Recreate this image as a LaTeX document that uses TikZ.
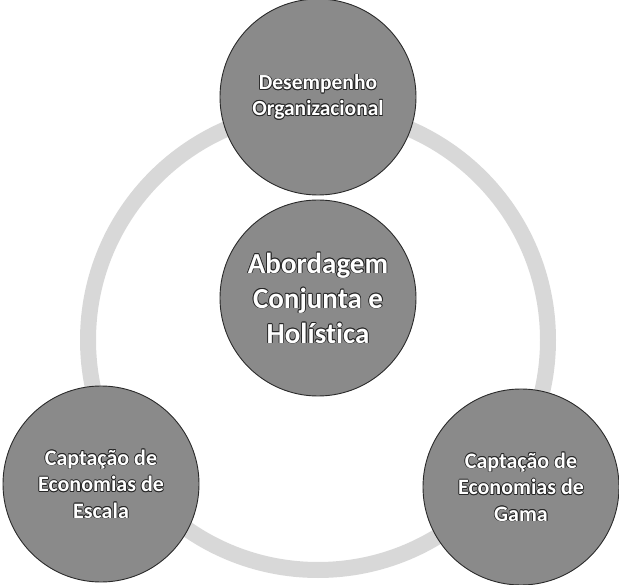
\documentclass[tikz,border=0pt]{standalone}
\usepackage{fontspec}
\setmainfont{Carlito}[BoldFont={Carlito Bold}, Ligatures=NoCommon]
\definecolor{discfill}{HTML}{8A8A8A}
\definecolor{discedge}{HTML}{2A2A2A}
\definecolor{ringgray}{HTML}{D8D8D8}
\definecolor{letteredge}{HTML}{262626}
% white letters with a thin dark contour made of shifted dark copies
\newlength\cshift \setlength\cshift{0.8pt}
\newcommand\ccopy[2]{\rlap{\kern#1\raise#2\hbox{\color{letteredge}\copy0}}}
\newcommand\contoured[1]{\leavevmode\setbox0\hbox{#1}%
  \ccopy{\cshift}{0pt}\ccopy{-\cshift}{0pt}\ccopy{0pt}{\cshift}\ccopy{0pt}{-\cshift}%
  \ccopy{0.7\cshift}{0.7\cshift}\ccopy{-0.7\cshift}{0.7\cshift}%
  \ccopy{0.7\cshift}{-0.7\cshift}\ccopy{-0.7\cshift}{-0.7\cshift}%
  \hbox{\color{white}\box0}}
\begin{document}
\begin{tikzpicture}[x=1pt,y=-1pt,
  disc/.style={circle, minimum size=196pt, inner sep=0pt, fill=discfill,
    draw=discedge, line width=0.9pt, align=center},
  smalltext/.style={font=\bfseries\fontsize{21.5}{25.5}\selectfont},
  sidetext/.style={font=\bfseries\fontsize{22}{26.5}\selectfont},
  bigtext/.style={font=\bfseries\fontsize{29}{35}\selectfont},
  ring/.style={draw=ringgray, line width=16pt}]
\useasboundingbox (0,0) rectangle (619,585);
% background cycle ring
\coordinate (hub) at (318,340);
\draw[ring] (hub) circle[radius=230];
% discs
\node[disc, smalltext] (top) at (318,97) {\contoured{Desempenho}\\\contoured{Organizacional}};
\node[disc, bigtext] (mid) at (318,298) {\contoured{Abordagem}\\\contoured{Conjunta e}\\\contoured{Holística}};
\node[disc, sidetext] (left) at (101,484) {\contoured{Captação de}\\\contoured{Economias de}\\\contoured{Escala}};
\node[disc, sidetext] (right) at (521,487) {\contoured{Captação de}\\\contoured{Economias de}\\\contoured{Gama}};
\end{tikzpicture}
\end{document}
